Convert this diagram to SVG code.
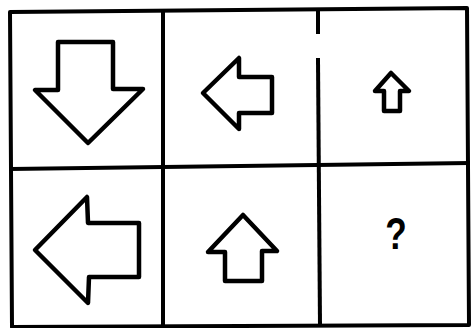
<svg xmlns="http://www.w3.org/2000/svg" width="471" height="328" viewBox="0 0 471 328">
<style>
.grid{fill:none;stroke:#000;stroke-width:4;stroke-linejoin:round;stroke-linecap:square}
.arrow{fill:#fff;stroke:#000;stroke-width:4.5;stroke-linejoin:round}
.small{stroke-width:4.5}
.q{font-family:"Liberation Sans",Arial,sans-serif;font-weight:bold;font-size:44px;fill:#000}
</style>
<rect width="471" height="328" fill="#fff"/>
<g id="grid">
<polygon class="grid" points="10,12 467,8 469,325 12,327"/>
<line class="grid" x1="11" y1="169" x2="468" y2="163"/>
<line class="grid" x1="163" y1="11" x2="163" y2="326"/>
<line class="grid" x1="318" y1="10" x2="318" y2="32"/>
<line class="grid" x1="318" y1="60" x2="320" y2="325"/>
</g>
<g id="cell1">
<polygon class="arrow" points="58,42 113,42 113,89 143,89 88,143 35,90 58,90"/>
</g>
<g id="cell2">
<polygon class="arrow" points="203,93 239,58 239,77 272,77 272,113 239,113 239,129"/>
</g>
<g id="cell3">
<polygon class="arrow small" points="391,73 409,91 400,91 400,111 384,111 384,91 375,91"/>
</g>
<g id="cell4">
<polygon class="arrow" points="35,250 87,197 88,223 139,223 139,277 89,277 88,303"/>
</g>
<g id="cell5">
<polygon class="arrow" points="243,215 277,251 262,251 262,281 225,281 225,252 208,252"/>
</g>
<g id="cell6">
<text class="q" transform="translate(396,249) scale(0.8,1)" text-anchor="middle">?</text>
</g>
</svg>
